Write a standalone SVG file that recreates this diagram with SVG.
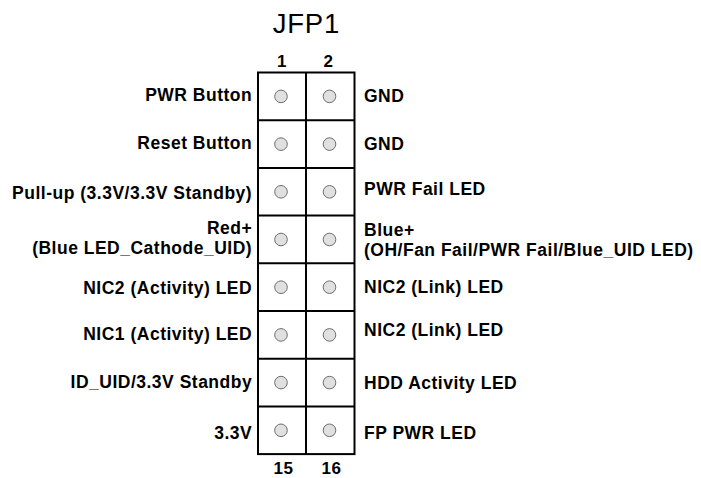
<svg xmlns="http://www.w3.org/2000/svg" width="701" height="478" viewBox="0 0 701 478">
<style>
.t{font-family:"Liberation Sans",Arial,sans-serif;font-weight:bold;font-size:17.5px;letter-spacing:0.5px;fill:#000}
.l{text-anchor:end}
.n{font-family:"Liberation Sans",Arial,sans-serif;font-weight:bold;font-size:17px;letter-spacing:0.5px;text-anchor:middle;fill:#000}
.ttl{font-family:"Liberation Sans",Arial,sans-serif;font-size:27.5px;letter-spacing:0.8px;text-anchor:middle;fill:#000}
.g{fill:none;stroke:#000;stroke-width:2}
.p{fill:#e0e0e0;stroke:#6e6e6e;stroke-width:1}
</style>
<rect width="701" height="478" fill="#fff"/>
<g id="title">
<text class="ttl" x="306.4" y="33.3">JFP1</text>
</g>
<g id="pin-numbers">
<text class="n" x="282" y="66.5">1</text>
<text class="n" x="328.5" y="66.5">2</text>
<text class="n" x="283.5" y="474">15</text>
<text class="n" x="331.5" y="474">16</text>
</g>
<g id="header">
<rect class="g" x="258" y="72.5" width="96.5" height="381.6"/>
<line class="g" x1="306" y1="72.5" x2="306" y2="454.1"/>
<line class="g" x1="258" y1="120.2" x2="354.5" y2="120.2"/>
<line class="g" x1="258" y1="167.9" x2="354.5" y2="167.9"/>
<line class="g" x1="258" y1="215.6" x2="354.5" y2="215.6"/>
<line class="g" x1="258" y1="263.3" x2="354.5" y2="263.3"/>
<line class="g" x1="258" y1="311" x2="354.5" y2="311"/>
<line class="g" x1="258" y1="358.7" x2="354.5" y2="358.7"/>
<line class="g" x1="258" y1="406.4" x2="354.5" y2="406.4"/>
</g>
<g id="pin1"><circle class="p" cx="281" cy="96.4" r="6.3"/><text class="t l" x="252.2" y="101">PWR Button</text></g>
<g id="pin2"><circle class="p" cx="329.5" cy="96.4" r="6.3"/><text class="t" x="364" y="101.5">GND</text></g>
<g id="pin3"><circle class="p" cx="281" cy="144.1" r="6.3"/><text class="t l" x="252.2" y="148.5">Reset Button</text></g>
<g id="pin4"><circle class="p" cx="329.5" cy="144.1" r="6.3"/><text class="t" x="364" y="149.5">GND</text></g>
<g id="pin5"><circle class="p" cx="281" cy="191.8" r="6.3"/><text class="t l" x="252.2" y="199">Pull-up (3.3V/3.3V Standby)</text></g>
<g id="pin6"><circle class="p" cx="329.5" cy="191.8" r="6.3"/><text class="t" x="364" y="195">PWR Fail LED</text></g>
<g id="pin7"><circle class="p" cx="281" cy="239.5" r="6.3"/><text class="t l" x="252.2" y="233.5"><tspan x="252.2" y="233.5">Red+</tspan><tspan x="252.2" y="253.5">(Blue LED_Cathode_UID)</tspan></text></g>
<g id="pin8"><circle class="p" cx="329.5" cy="239.5" r="6.3"/><text class="t" x="364" y="235.5"><tspan x="364" y="235.5">Blue+</tspan><tspan x="364" y="255.5">(OH/Fan Fail/PWR Fail/Blue_UID LED)</tspan></text></g>
<g id="pin9"><circle class="p" cx="281" cy="287.2" r="6.3"/><text class="t l" x="252.2" y="293.5">NIC2 (Activity) LED</text></g>
<g id="pin10"><circle class="p" cx="329.5" cy="287.2" r="6.3"/><text class="t" x="364" y="292.5">NIC2 (Link) LED</text></g>
<g id="pin11"><circle class="p" cx="281" cy="334.9" r="6.3"/><text class="t l" x="252.2" y="340">NIC1 (Activity) LED</text></g>
<g id="pin12"><circle class="p" cx="329.5" cy="334.9" r="6.3"/><text class="t" x="364" y="336">NIC2 (Link) LED</text></g>
<g id="pin13"><circle class="p" cx="281" cy="382.6" r="6.3"/><text class="t l" x="252.2" y="388">ID_UID/3.3V Standby</text></g>
<g id="pin14"><circle class="p" cx="329.5" cy="382.6" r="6.3"/><text class="t" x="364" y="388.5">HDD Activity LED</text></g>
<g id="pin15"><circle class="p" cx="281" cy="430.3" r="6.3"/><text class="t l" x="252.2" y="438.5">3.3V</text></g>
<g id="pin16"><circle class="p" cx="329.5" cy="430.3" r="6.3"/><text class="t" x="364" y="438.5">FP PWR LED</text></g>
</svg>
